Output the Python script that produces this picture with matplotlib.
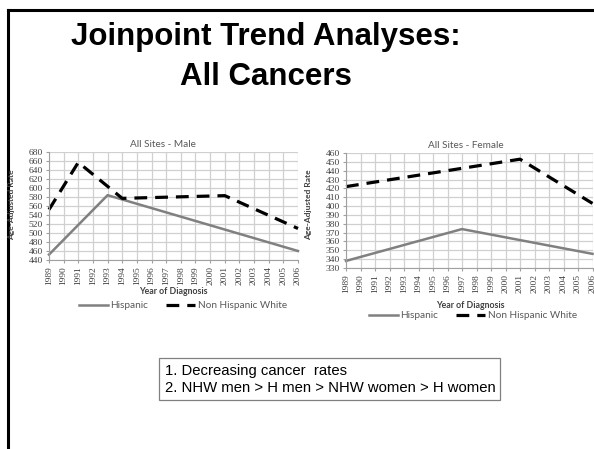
import matplotlib
matplotlib.use('Agg')
import matplotlib.pyplot as plt
from matplotlib.lines import Line2D
from matplotlib.patches import Rectangle

# joinpoint segments
years = list(range(1989, 2007))

male_hisp_yr = [1989, 1993, 2006]
male_hisp = [452, 584, 460]
male_nhw_yr = [1989, 1991, 1994, 2001, 2006]
male_nhw = [552, 657, 577, 583, 510]

fem_hisp_yr = [1989, 1997, 2006]
fem_hisp = [338, 374, 346]
fem_nhw_yr = [1989, 2001, 2006]
fem_nhw = [422, 453, 403]

male_yticks = list(range(440, 681, 20))
fem_yticks = list(range(330, 461, 10))

W, H = 594, 449
fig = plt.figure(figsize=(W / 100, H / 100), dpi=100)
fig.patch.set_facecolor('white')


def rect(l, r, t, b):
    return [l / W, 1 - b / H, (r - l) / W, (b - t) / H]


def px(x, y):
    return x / W, 1 - y / H


# slide frame
fig.add_artist(Line2D([px(8, 0)[0], 1], [px(0, 10)[1]] * 2, color='black', lw=2.2))
fig.add_artist(Line2D([px(8, 0)[0]] * 2, [0, px(0, 10)[1]], color='black', lw=2.2))

fig.text(*px(266, 37), 'Joinpoint Trend Analyses:', ha='center', va='center',
         fontsize=22.5, fontweight='bold', family='Liberation Sans')
fig.text(*px(266, 77), 'All Cancers', ha='center', va='center',
         fontsize=22.5, fontweight='bold', family='Liberation Sans')

grey_txt = '#595959'


def make_chart(box, ylim, yticks, hy, hv, ny, nv, title, tpos, xlab_pos, ylab_pos, leg_pos):
    ax = fig.add_axes(box)
    ax.set_xlim(1989, 2006)
    ax.set_ylim(*ylim)
    ax.set_xticks(years)
    ax.set_xticklabels([str(y) for y in years], rotation=90, family='Liberation Serif',
                       fontsize=6.8, color='#404040')
    ax.set_yticks(yticks)
    ax.set_yticklabels([str(v) for v in yticks], family='Liberation Serif',
                       fontsize=6.8, color='#404040')
    ax.grid(True, color='#d0d0d0', lw=0.9)
    ax.set_axisbelow(True)
    for s in ['top', 'right']:
        ax.spines[s].set_visible(False)
    for s in ['left', 'bottom']:
        ax.spines[s].set_color('#a0a0a0')
    ax.tick_params(length=2.5, width=0.8, color='#a0a0a0', pad=2)
    h1, = ax.plot(hy, hv, color='#808080', lw=1.8, clip_on=False)
    h2, = ax.plot(ny, nv, color='black', lw=2.3, ls=(0, (4, 2.5)), clip_on=False)
    fig.text(*px(*tpos), title, ha='center', va='center', fontsize=7.2,
             family='Lato', color=grey_txt)
    fig.text(*px(*xlab_pos), 'Year of Diagnosis', ha='center', va='center', fontsize=6.3,
             family='Lato', fontweight='bold', color='#404040')
    fig.text(*px(*ylab_pos), 'Age-Adjusted Rate', ha='center', va='center', fontsize=6.0,
             family='Lato', fontweight='bold', color='#404040', rotation=90)
    fig.legend([h1, h2], ['Hispanic', 'Non Hispanic White'], loc='center',
               bbox_to_anchor=px(*leg_pos), ncol=2, frameon=False,
               prop={'family': 'Lato', 'size': 7.2}, handlelength=2.9,
               handletextpad=0.3, columnspacing=1.8, labelcolor=grey_txt)
    return ax


make_chart(rect(49, 298, 152, 260), (440, 680), male_yticks,
           male_hisp_yr, male_hisp, male_nhw_yr, male_nhw,
           'All Sites - Male', (163, 144), (173, 292), (12, 205), (183, 306))
make_chart(rect(346, 592.5, 153, 268), (330, 460), fem_yticks,
           fem_hisp_yr, fem_hisp, fem_nhw_yr, fem_nhw,
           'All Sites - Female', (466, 145), (470, 305), (309, 205), (473, 316))

# note box
fig.add_artist(Rectangle(px(159, 400), (500 - 159) / W, 42 / H, fill=False,
                         edgecolor='#808080', lw=0.9))
fig.text(*px(165, 371), '1. Decreasing cancer  rates', ha='left', va='center',
         fontsize=10.7, family='Liberation Sans', color='black')
fig.text(*px(165, 388), '2. NHW men > H men > NHW women > H women', ha='left', va='center',
         fontsize=10.7, family='Liberation Sans', color='black')

fig.savefig('out.png', dpi=100)
